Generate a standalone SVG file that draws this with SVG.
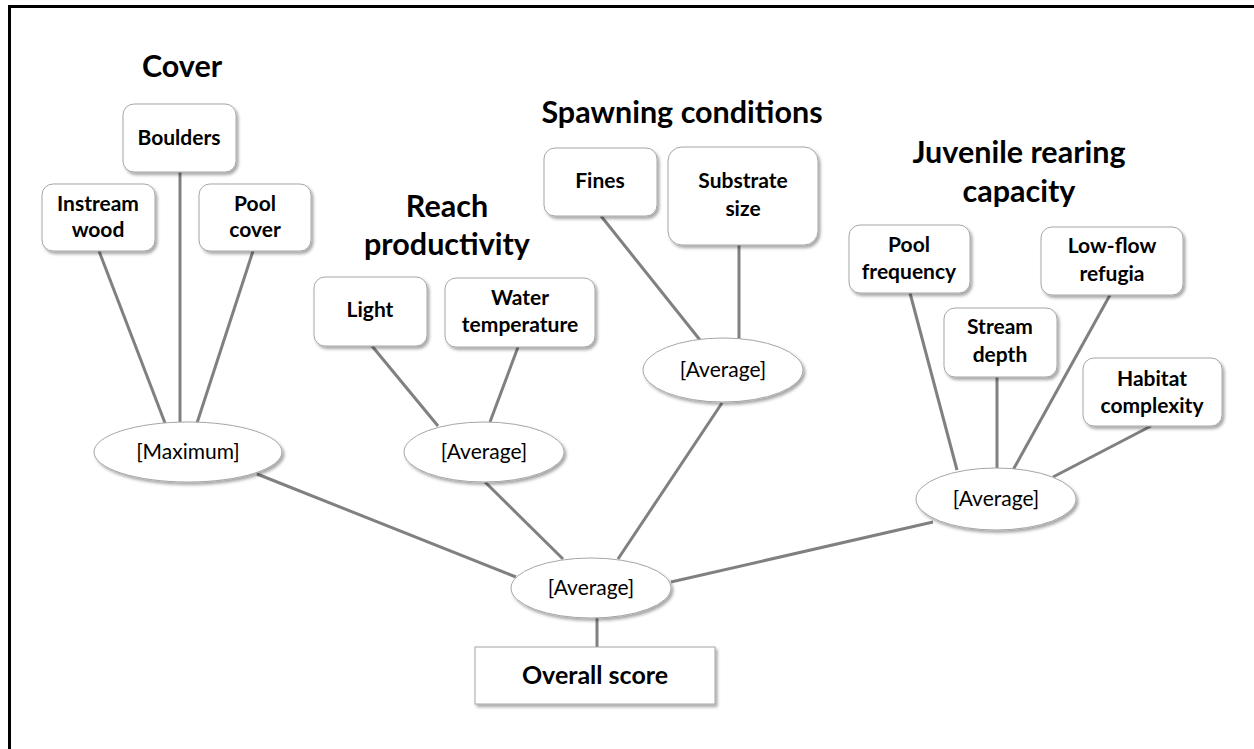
<svg xmlns="http://www.w3.org/2000/svg" width="1254" height="749" viewBox="0 0 1254 749">
  <defs>
    <filter id="shadow" x="-20%" y="-20%" width="140%" height="150%">
      <feDropShadow dx="2" dy="2.5" stdDeviation="1.5" flood-color="#000" flood-opacity="0.35"/>
    </filter>
  </defs>
  <style>
    .frame { fill: none; stroke: #000; stroke-width: 3; }
    .link { stroke: #808080; stroke-width: 3; fill: none; }
    .box { fill: #fff; stroke: #a6a6a6; stroke-width: 1; filter: url(#shadow); }
    .oval { fill: #fff; stroke: #a6a6a6; stroke-width: 1; filter: url(#shadow); }
    .lbl { font-family: Lato, "Liberation Sans", sans-serif; font-weight: bold; font-size: 21px; fill: #000; text-anchor: middle; }
    .op { font-family: Lato, "Liberation Sans", sans-serif; font-size: 21px; fill: #000; text-anchor: middle; }
    .title { font-family: Lato, "Liberation Sans", sans-serif; font-weight: bold; font-size: 30.5px; fill: #000; text-anchor: middle; }
    .result { font-family: Lato, "Liberation Sans", sans-serif; font-weight: bold; font-size: 25px; fill: #000; text-anchor: middle; }
  </style>

  <rect width="1254" height="749" fill="#fff"/>
  <path class="frame" d="M9.5,749 V6.5 H1254"/>

  <!-- category headings -->
  <g id="headings">
    <text class="title" x="182" y="77">Cover</text>
    <text class="title" x="447" y="217">Reach</text>
    <text class="title" x="447" y="255">productivity</text>
    <text class="title" x="682" y="123">Spawning conditions</text>
    <text class="title" x="1019" y="163">Juvenile rearing</text>
    <text class="title" x="1019" y="202">capacity</text>
  </g>

  <!-- connectors -->
  <g id="connectors">
    <line class="link" x1="99" y1="251" x2="165" y2="423"/>
    <line class="link" x1="180" y1="172" x2="180" y2="422"/>
    <line class="link" x1="253" y1="251" x2="197" y2="423"/>
    <line class="link" x1="372" y1="346" x2="438" y2="426"/>
    <line class="link" x1="518" y1="347" x2="490" y2="422"/>
    <line class="link" x1="601" y1="216" x2="700" y2="340"/>
    <line class="link" x1="739" y1="245" x2="739" y2="339"/>
    <line class="link" x1="910" y1="293" x2="957" y2="470"/>
    <line class="link" x1="997" y1="377" x2="997" y2="468"/>
    <line class="link" x1="1110" y1="295" x2="1013" y2="470"/>
    <line class="link" x1="1151" y1="426" x2="1053" y2="477"/>
    <line class="link" x1="257" y1="474" x2="516" y2="577"/>
    <line class="link" x1="485" y1="482" x2="563" y2="559"/>
    <line class="link" x1="722" y1="403" x2="618" y2="559"/>
    <line class="link" x1="933" y1="522" x2="671" y2="582"/>
    <line class="link" x1="597" y1="618" x2="597" y2="647"/>
  </g>

  <!-- Cover -->
  <g id="boulders">
    <rect class="box" x="123" y="104" width="113" height="68" rx="11"/>
    <text class="lbl" x="179" y="145">Boulders</text>
  </g>
  <g id="instream-wood">
    <rect class="box" x="42" y="184" width="113" height="67" rx="11"/>
    <text class="lbl" x="98" y="211">Instream</text>
    <text class="lbl" x="98" y="237">wood</text>
  </g>
  <g id="pool-cover">
    <rect class="box" x="199" y="184" width="112" height="67" rx="11"/>
    <text class="lbl" x="255" y="211">Pool</text>
    <text class="lbl" x="255" y="237">cover</text>
  </g>
  <g id="cover-maximum">
    <ellipse class="oval" cx="188" cy="452" rx="94" ry="30"/>
    <text class="op" x="188" y="459">[Maximum]</text>
  </g>

  <!-- Reach productivity -->
  <g id="light">
    <rect class="box" x="314" y="277" width="113" height="69" rx="11"/>
    <text class="lbl" x="370" y="317">Light</text>
  </g>
  <g id="water-temperature">
    <rect class="box" x="445" y="278" width="150" height="69" rx="11"/>
    <text class="lbl" x="520" y="305">Water</text>
    <text class="lbl" x="520" y="332">temperature</text>
  </g>
  <g id="reach-average">
    <ellipse class="oval" cx="484" cy="452" rx="80" ry="30"/>
    <text class="op" x="484" y="459">[Average]</text>
  </g>

  <!-- Spawning conditions -->
  <g id="fines">
    <rect class="box" x="544" y="148" width="113" height="68" rx="11"/>
    <text class="lbl" x="600" y="188">Fines</text>
  </g>
  <g id="substrate-size">
    <rect class="box" x="668" y="147" width="150" height="98" rx="14"/>
    <text class="lbl" x="743" y="188">Substrate</text>
    <text class="lbl" x="743" y="216">size</text>
  </g>
  <g id="spawning-average">
    <ellipse class="oval" cx="723" cy="370" rx="80" ry="32"/>
    <text class="op" x="723" y="377">[Average]</text>
  </g>

  <!-- Juvenile rearing capacity -->
  <g id="pool-frequency">
    <rect class="box" x="849" y="225" width="121" height="68" rx="11"/>
    <text class="lbl" x="909" y="252">Pool</text>
    <text class="lbl" x="909" y="279">frequency</text>
  </g>
  <g id="low-flow-refugia">
    <rect class="box" x="1041" y="227" width="142" height="68" rx="11"/>
    <text class="lbl" x="1112" y="253">Low-flow</text>
    <text class="lbl" x="1112" y="281">refugia</text>
  </g>
  <g id="stream-depth">
    <rect class="box" x="944" y="308" width="113" height="69" rx="11"/>
    <text class="lbl" x="1000" y="334">Stream</text>
    <text class="lbl" x="1000" y="362">depth</text>
  </g>
  <g id="habitat-complexity">
    <rect class="box" x="1083" y="358" width="139" height="68" rx="11"/>
    <text class="lbl" x="1152" y="386">Habitat</text>
    <text class="lbl" x="1152" y="413">complexity</text>
  </g>
  <g id="juvenile-average">
    <ellipse class="oval" cx="996" cy="499" rx="80" ry="31"/>
    <text class="op" x="996" y="506">[Average]</text>
  </g>

  <!-- Overall -->
  <g id="overall-average">
    <ellipse class="oval" cx="591" cy="588" rx="80" ry="30"/>
    <text class="op" x="591" y="595">[Average]</text>
  </g>
  <g id="overall-score">
    <rect class="box" x="475" y="647" width="240" height="57"/>
    <text class="result" x="595" y="684">Overall score</text>
  </g>
</svg>
